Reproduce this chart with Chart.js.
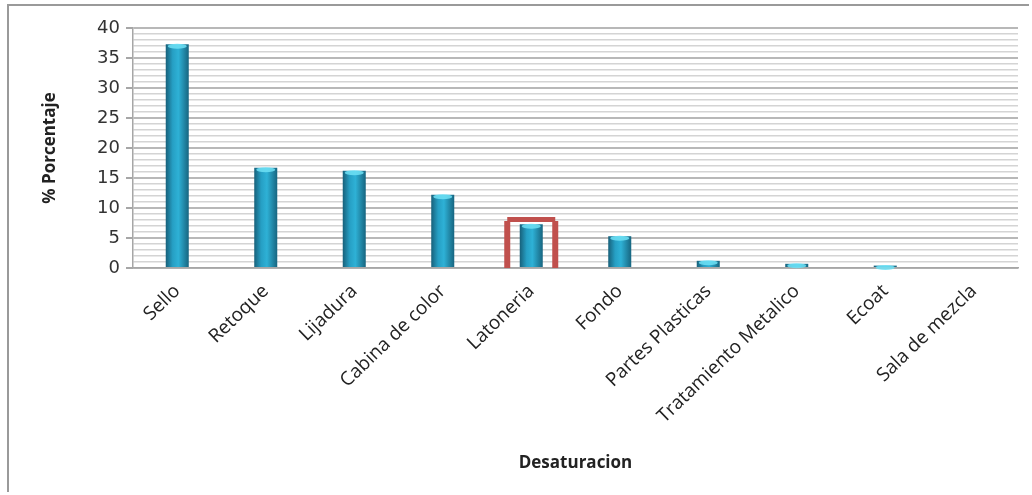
<!DOCTYPE html>
<html>
<head>
<meta charset="utf-8">
<script src="https://cdn.jsdelivr.net/npm/chart.js@4.4.0/dist/chart.umd.min.js"></script>
<style>
  html,body{margin:0;padding:0;background:#fff;}
  #wrap{position:absolute;left:7px;top:4px;width:1022px;height:488px;border:2px solid #9a9a9a;border-right:none;border-bottom:none;box-sizing:border-box;}
  #c{position:absolute;left:0;top:0;}
</style>
</head>
<body>
<div id="wrap"></div>
<canvas id="c" width="1032" height="495"></canvas>
<script>
/* ---------------- datos ---------------- */
const categorias = ['Sello','Retoque','Lijadura','Cabina de color','Latoneria','Fondo',
                    'Partes Plasticas','Tratamiento Metalico','Ecoat','Sala de mezcla'];
const porcentaje = [37.3, 16.7, 16.2, 12.2, 7.3, 5.3, 1.2, 0.7, 0.4, 0];
const yMin = 0, yMax = 40, yPaso = 1, yEtiqueta = 5;
const resaltado = {indice: 4, tope: 8.5};   // recuadro rojo sobre Latoneria

/* ---------------- helpers ---------------- */
const fontTxt = '"Open Sans", sans-serif';
const fontNum = '"DejaVu Sans", sans-serif';
const BAR_PCT = 0.52, CAT_PCT = 0.5;

function barFill(ctx){
  const x = ctx.chart.scales && ctx.chart.scales.x;
  if(!x || !x.width || ctx.dataIndex === undefined) return '#2595b6';
  const cx = x.getPixelForValue(ctx.dataIndex);
  const w  = x.width / categorias.length * BAR_PCT * CAT_PCT;
  const g = ctx.chart.ctx.createLinearGradient(cx - w/2, 0, cx + w/2, 0);
  g.addColorStop(0,   '#17607a');
  g.addColorStop(0.3, '#269fc4');
  g.addColorStop(0.55,'#2eb1d6');
  g.addColorStop(1,   '#176580');
  return g;
}

// tapa clara arriba de cada barra (estilo 3D de Excel)
const tapaBarra = {
  id:'tapaBarra',
  afterDatasetsDraw(chart){
    const ctx = chart.ctx;
    chart.getDatasetMeta(0).data.forEach((b,i)=>{
      if(!porcentaje[i]) return;
      const w = b.width;
      ctx.save();
      ctx.fillStyle = 'rgba(110,225,245,0.85)';
      ctx.beginPath();
      ctx.ellipse(b.x, b.y + 2, w/2 - 2, 2.5, 0, 0, Math.PI*2);
      ctx.fill();
      ctx.restore();
    });
  }
};

const marcaRoja = {
  id:'marcaRoja',
  afterDatasetsDraw(chart){
    const {ctx, scales:{x, y}} = chart;
    const cx = x.getPixelForValue(resaltado.indice);
    const top = y.getPixelForValue(resaltado.tope);
    const bot = y.getPixelForValue(0);
    ctx.save();
    ctx.fillStyle = '#c0504d';
    ctx.fillRect(cx - 24, top, 48, 5);
    ctx.fillRect(cx - 27, top + 4, 6, bot - top - 4);
    ctx.fillRect(cx + 21, top + 4, 6, bot - top - 4);
    ctx.restore();
  }
};

/* ---------------- gráfico ---------------- */
new Chart(document.getElementById('c'),{
  type:'bar',
  data:{
    labels:categorias,
    datasets:[{
      data:porcentaje,
      backgroundColor:barFill,
      borderWidth:0,
      barPercentage:BAR_PCT,
      categoryPercentage:CAT_PCT
    }]
  },
  options:{
    responsive:false,
    animation:false,
    layout:{padding:{left:36,right:14,top:28,bottom:22}},
    plugins:{legend:{display:false},tooltip:{enabled:false}},
    scales:{
      x:{
        afterFit(s){ s.height = 205; },
        grid:{display:false},
        border:{color:'#a6a6a6',width:1.5},
        ticks:{color:'#222',font:{family:fontTxt,size:19},minRotation:44,maxRotation:44,padding:4},
        title:{display:true,text:'Desaturacion',color:'#222',font:{family:fontTxt,size:17,weight:'bold'},padding:{top:4,bottom:0}}
      },
      y:{
        min:yMin,max:yMax,
        afterFit(s){ s.width = 97; },
        ticks:{
          stepSize:yPaso,autoSkip:false,color:'#333',
          font:{family:fontNum,size:18},padding:6,
          callback:v => v % yEtiqueta === 0 ? v : ''
        },
        grid:{
          color:c => c.tick && c.tick.value % yEtiqueta === 0 ? '#b8b8b8' : '#d4d4d4',
          lineWidth:c => c.tick && c.tick.value % yEtiqueta === 0 ? 2 : 1.5,
          tickColor:c => c.tick && c.tick.value % yEtiqueta === 0 ? '#a6a6a6' : 'rgba(0,0,0,0)',
          tickLength:7
        },
        border:{color:'#a6a6a6',width:1.5},
        title:{display:true,text:'% Porcentaje',color:'#222',font:{family:fontTxt,size:17,weight:'bold'},padding:{bottom:4}}
      }
    }
  },
  plugins:[tapaBarra, marcaRoja]
});
</script>
</body>
</html>
